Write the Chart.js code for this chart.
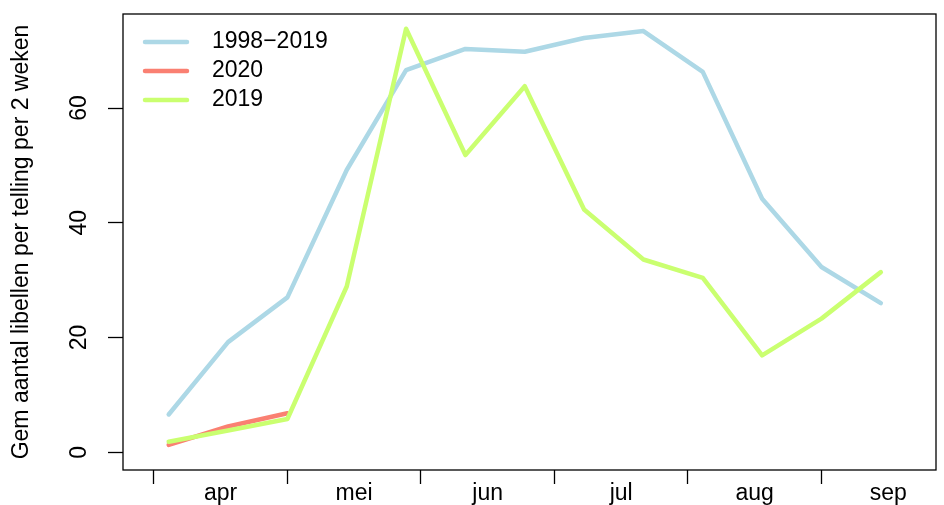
<!DOCTYPE html>
<html>
<head>
<meta charset="utf-8">
<script src="https://cdn.jsdelivr.net/npm/chart.js@4/dist/chart.umd.min.js"></script>
<style>
  html, body { margin: 0; padding: 0; background: #fff; }
  #wrap { width: 944px; height: 505px; position: relative; }
</style>
</head>
<body>
<div id="wrap"><canvas id="libellenChart"></canvas></div>
<script>
// counting periods of 2 weeks (x positions)
const periods = [1, 2, 3, 4, 5, 6, 7, 8, 9, 10, 11, 12, 13];
const mean1998_2019 = [6.6, 19.2, 27.0, 49.2, 66.6, 70.3, 69.8, 72.2, 73.4, 66.3, 44.2, 32.3, 26.0];
const year2020 = [1.3, 4.5, 6.8];
const year2019 = [1.85, 3.8, 5.8, 28.9, 73.8, 51.8, 63.8, 42.3, 33.6, 30.4, 16.9, 23.3, 31.4];

// month axis: tick marks at the breaks, names in between
const monthNames = ["apr", "mei", "jun", "jul", "aug", "sep"];
const monthBreaks = [0.75, 3, 5.25, 7.5, 9.75, 12];
const monthMids = [1.875, 4.125, 6.375, 8.625, 10.875, 13.125];
const yTicks = [0, 20, 40, 60];

const seriesLabels = ["1998\u22122019", "2020", "2019"];

Chart.defaults.font.family = '"Liberation Sans", Arial, sans-serif';
Chart.defaults.font.size = 23;
Chart.defaults.color = "#000";

function toPoints(values) {
    return values.map((v, i) => ({ x: periods[i], y: v }));
}

// break ticks (marks only) and month ticks (labels only), sorted
const xTickList = monthBreaks.map(v => ({ value: v, label: "", mark: true }))
    .concat(monthMids.map((v, i) => ({ value: v, label: monthNames[i], mark: false })))
    .sort((a, b) => a.value - b.value);

// legend + box, drawn like base R
const legendAndBox = {
    id: "legendAndBox",
    afterDatasetsDraw(chart) {
        const { ctx, chartArea } = chart;
        ctx.save();
        chart.data.datasets.forEach((ds, i) => {
            const x = chartArea.left + 20;
            const y = chartArea.top + 28 + i * 29;
            ctx.strokeStyle = ds.borderColor;
            ctx.lineWidth = ds.borderWidth;
            ctx.lineCap = "round";
            ctx.beginPath();
            ctx.moveTo(x + 2, y);
            ctx.lineTo(x + 44, y);
            ctx.stroke();
            ctx.fillStyle = "#000";
            ctx.font = '23px "Liberation Sans", Arial, sans-serif';
            ctx.textBaseline = "middle";
            ctx.fillText(ds.label, x + 69, y);
        });
        ctx.strokeStyle = "#000";
        ctx.lineWidth = 1.3;
        ctx.strokeRect(chartArea.left, chartArea.top, chartArea.right - chartArea.left, chartArea.bottom - chartArea.top);
        ctx.restore();
    }
};

const data = {
    datasets: [
        {
            label: seriesLabels[0],
            data: toPoints(mean1998_2019),
            borderColor: "#ADD8E6",
            order: 3
        },
        {
            label: seriesLabels[1],
            data: toPoints(year2020),
            borderColor: "#FA8072",
            order: 2
        },
        {
            label: seriesLabels[2],
            data: toPoints(year2019),
            borderColor: "#CAFF70",
            order: 1
        }
    ]
};
data.datasets.forEach(ds => {
    ds.borderWidth = 4.5;
    ds.pointRadius = 0;
    ds.tension = 0;
    ds.fill = false;
    ds.borderCapStyle = "round";
    ds.borderJoinStyle = "round";
});

const config = {
    type: "line",
    data: data,
    options: {
        responsive: true,
        maintainAspectRatio: false,
        animation: false,
        layout: { padding: { top: 14, right: 8, left: 0, bottom: 0 } },
        plugins: {
            legend: { display: false },
            tooltip: { enabled: false }
        },
        scales: {
            x: {
                type: "linear",
                min: 0.23,
                max: 13.93,
                afterBuildTicks: scale => {
                    scale.ticks = xTickList.map(t => ({ value: t.value }));
                },
                afterFit: scale => {
                    scale.height = 35;
                    scale.paddingLeft = 0;
                    scale.paddingRight = 0;
                },
                border: { display: false },
                grid: {
                    drawOnChartArea: false,
                    drawTicks: true,
                    tickLength: 14,
                    tickWidth: 1.3,
                    tickColor: ctx => (xTickList[ctx.index] && xTickList[ctx.index].mark) ? "#000" : "rgba(0,0,0,0)"
                },
                ticks: {
                    autoSkip: false,
                    maxRotation: 0,
                    padding: -4,
                    callback: (value, index) => xTickList[index] ? xTickList[index].label : ""
                }
            },
            y: {
                min: -3.08,
                max: 76.38,
                afterBuildTicks: scale => {
                    scale.ticks = yTicks.map(v => ({ value: v }));
                },
                afterFit: scale => {
                    scale.width = 123;
                    scale.paddingTop = 0;
                    scale.paddingBottom = 0;
                },
                border: { display: false },
                grid: {
                    drawOnChartArea: false,
                    drawTicks: true,
                    tickLength: 15,
                    tickWidth: 1.3,
                    tickColor: "#000"
                },
                ticks: {
                    minRotation: 90,
                    maxRotation: 90,
                    crossAlign: "center",
                    padding: 16
                },
                title: {
                    display: true,
                    text: "Gem aantal libellen per telling per 2 weken",
                    font: { size: 23 },
                    padding: { top: 8, bottom: 0 }
                }
            }
        }
    },
    plugins: [legendAndBox]
};

new Chart(document.getElementById("libellenChart").getContext("2d"), config);
</script>
</body>
</html>
